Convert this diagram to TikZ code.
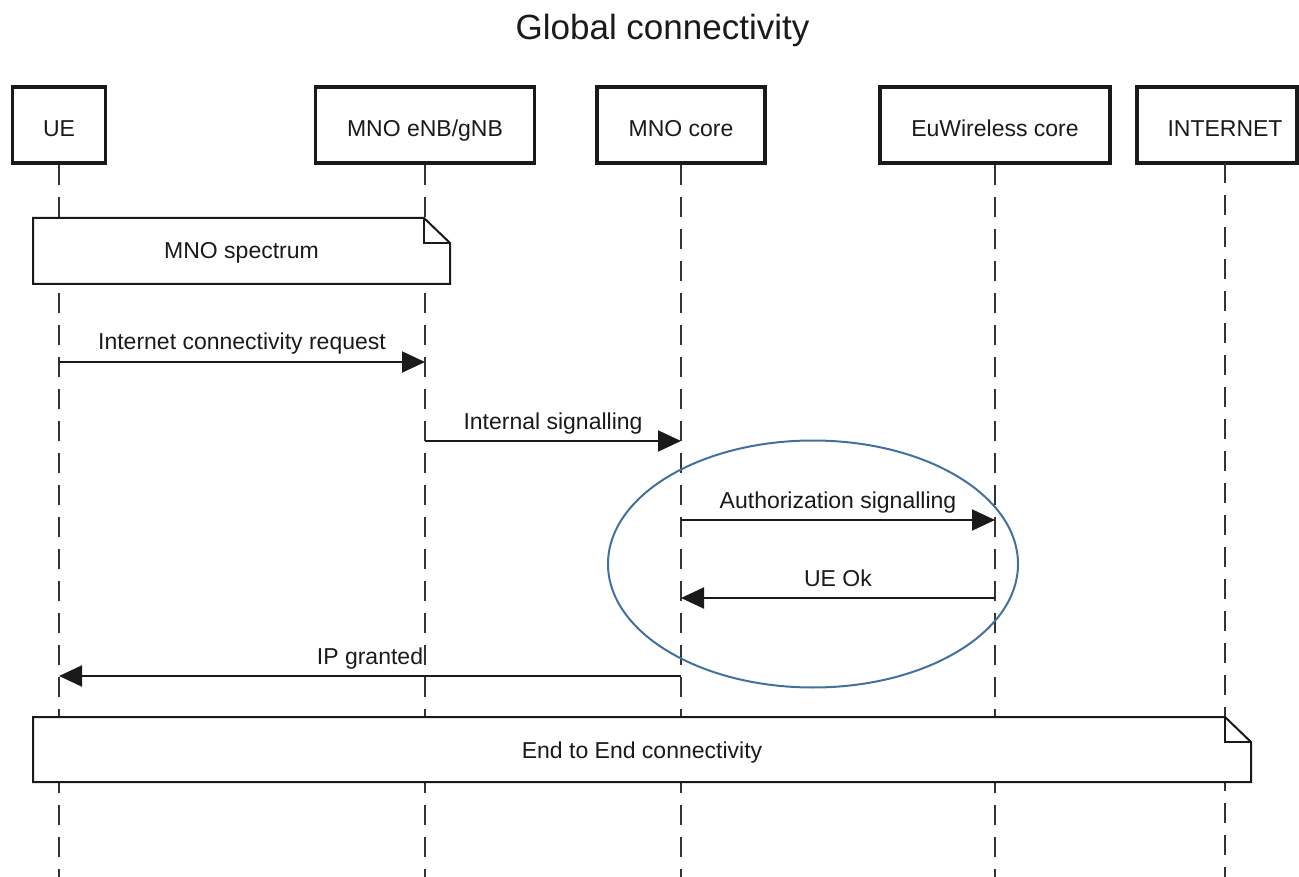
\documentclass[tikz,border=0pt]{standalone}
\usepackage{fontspec}
\setmainfont{Liberation Sans}
\usetikzlibrary{arrows.meta,shapes.geometric}
\definecolor{ink}{HTML}{1A1A1A}
\definecolor{lifegray}{HTML}{333333}
\definecolor{ovalblue}{HTML}{41719C}
\begin{document}
\begin{tikzpicture}[x=1pt,y=-1pt,
  every node/.style={font=\fontsize{23}{27}\selectfont, text=ink},
  actor/.style={draw=ink, line width=3.5pt, fill=white, minimum height=76pt, inner sep=0pt, text height=22.5pt, text depth=0pt},
  life/.style={draw=lifegray, line width=2pt, dash pattern=on 20pt off 12pt},
  msg/.style={draw=ink, line width=2pt, -{Triangle[length=23pt,width=21pt]}},
  lbl/.style={midway, anchor=base, yshift=12pt},
  notebox/.style={draw=ink, line width=2pt, fill=white, line join=miter},
  notetext/.style={anchor=base}]
\useasboundingbox (0,0) rectangle (1299,877);

% title
\node[font=\fontsize{35}{40}\selectfont, anchor=base] (title) at (662.5,40) {Global connectivity};

% actors
\node[actor, minimum width=93pt] (ue) at (59,125) {UE};
\node[actor, minimum width=219pt] (enb) at (425,125) {MNO eNB/gNB};
\node[actor, minimum width=168pt] (core) at (681,125) {MNO core};
\node[actor, minimum width=230pt] (euw) at (995,125) {EuWireless core};
\node[actor, minimum width=160pt] (inet) at (1217,125) {\hspace{16pt}INTERNET};

\coordinate (bottom) at (0,877);
\coordinate (inettop) at (1225,163);

% lifelines
\draw[life] (ue.south) -- (ue.south |- bottom);
\draw[life] (enb.south) -- (enb.south |- bottom);
\draw[life] (core.south) -- (core.south |- bottom);
\draw[life] (euw.south) -- (euw.south |- bottom);
\draw[life] (inettop) -- (inettop |- bottom);

% note 1
\draw[notebox] (33,218) -- (424,218) -- (450,243) -- (450,284) -- (33,284) -- cycle;
\draw[notebox, fill=none] (424,218) -- (424,243) -- (450,243);
\node[notetext] (note1) at (241.5,259) {MNO spectrum};

% message levels
\coordinate (m1) at (0,362);
\coordinate (m2) at (0,441);
\coordinate (m3) at (0,520);
\coordinate (m4) at (0,598);
\coordinate (m5) at (0,676);

\draw[msg] (ue |- m1) -- node[lbl] (l1) {Internet connectivity request} (enb |- m1);
\draw[msg] (enb |- m2) -- node[lbl] (l2) {Internal signalling} (core |- m2);
\draw[msg] (core |- m3) -- node[lbl] (l3) {Authorization signalling} (euw |- m3);
\draw[msg] (euw |- m4) -- node[lbl] (l4) {UE Ok} (core |- m4);
\draw[msg] (core |- m5) -- node[lbl] (l5) {IP granted} (ue |- m5);

% note 2
\draw[notebox] (33,717) -- (1225,717) -- (1251,742) -- (1251,782) -- (33,782) -- cycle;
\draw[notebox, fill=none] (1225,717) -- (1225,742) -- (1251,742);
\node[notetext] (note2) at (642,758) {End to End connectivity};

% highlight ellipse
\node[draw=ovalblue, line width=2pt, ellipse, minimum width=410pt, minimum height=247pt, inner sep=0pt] (focus) at (813,564) {};
\end{tikzpicture}
\end{document}
